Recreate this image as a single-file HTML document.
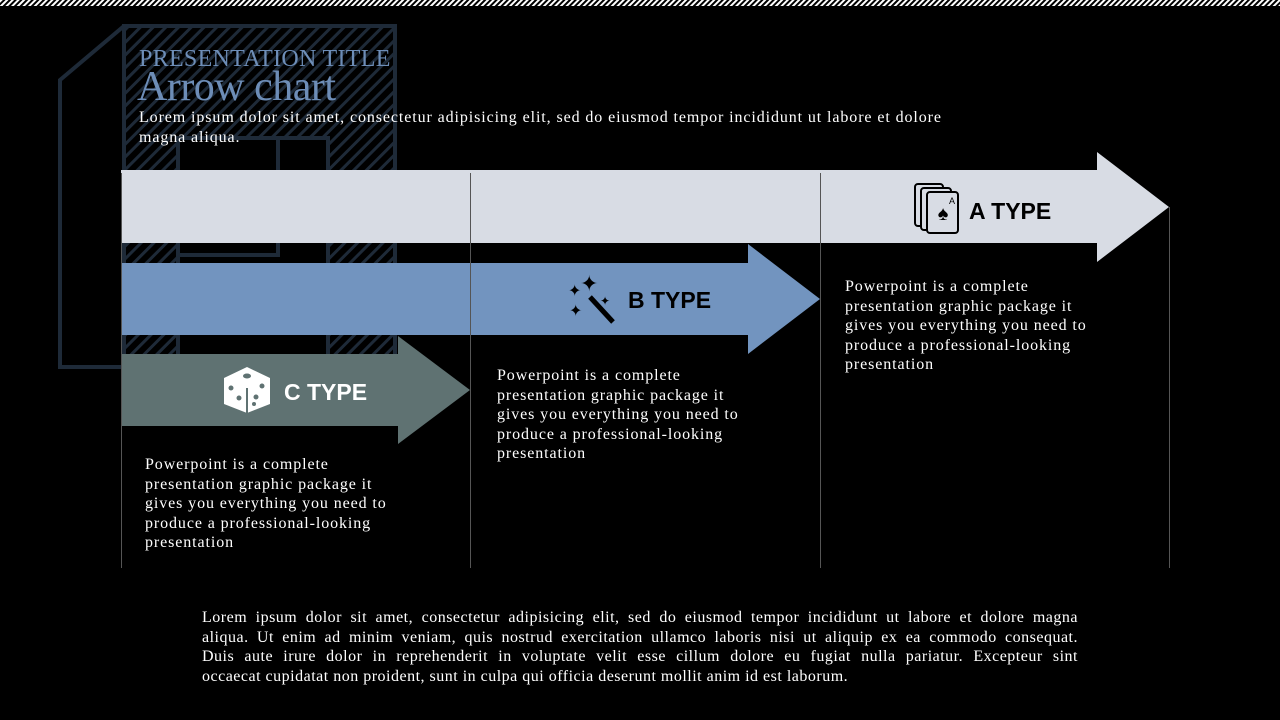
<!DOCTYPE html>
<html><head><meta charset="utf-8"><style>
body{margin:0;width:1280px;height:720px;background:#000;overflow:hidden;position:relative;font-family:"Liberation Serif",serif;}
.t{position:absolute;color:#fff;font-size:16px;line-height:19.5px;letter-spacing:0.9px;white-space:nowrap;}
.j div{text-align:justify;text-align-last:justify;white-space:nowrap;}
.j div.l{text-align-last:left;}
.lbl{position:absolute;font-family:"Liberation Sans",sans-serif;font-weight:bold;font-size:23px;}
</style></head><body>
<svg width="1280" height="720" style="position:absolute;left:0;top:0">
<defs>
<pattern id="h" width="9" height="9" patternUnits="userSpaceOnUse" patternTransform="rotate(45)"><rect width="3" height="9" fill="#1e2a38"/></pattern>
<pattern id="top" width="4" height="4" patternUnits="userSpaceOnUse" patternTransform="rotate(45)"><rect width="2" height="4" fill="#fff"/></pattern>
</defs>
<rect x="0" y="0" width="1280" height="6" fill="url(#top)"/>
<g stroke="#1e2a38" stroke-width="4" fill="none">
<polyline points="122,367 60,367 60,80 124,26"/>
<rect x="124" y="26" width="271" height="340" fill="url(#h)"/>
<rect x="178" y="138" width="150" height="228" fill="#000"/>
<rect x="178" y="138" width="100" height="117"/>
</g>
<polygon points="121,170 1097,170 1097,152 1169,207 1097,262 1097,243 121,243" fill="#d8dce4"/>
<polygon points="121,263 748,263 748,244 820,299 748,354 748,335 121,335" fill="#7294bf"/>
<polygon points="121,354 398,354 398,336 470,390 398,444 398,426 121,426" fill="#5f7272"/>
<g stroke="#555" stroke-width="1">
<line x1="121.5" y1="173" x2="121.5" y2="568"/>
<line x1="470.5" y1="173" x2="470.5" y2="568"/>
<line x1="820.5" y1="173" x2="820.5" y2="568"/>
<line x1="1169.5" y1="207" x2="1169.5" y2="568"/>
</g>
<g stroke="#000" stroke-width="2" fill="#d8dce4">
<rect x="915" y="184" width="28" height="42" rx="3"/>
<rect x="921" y="188" width="30" height="42" rx="3"/>
<rect x="927" y="192" width="31" height="41" rx="3"/>
</g>
<text x="943" y="220" font-size="20" text-anchor="middle" fill="#000">♠</text>
<text x="949" y="204" font-size="9" fill="#000" font-family="Liberation Sans">A</text>
<line x1="590" y1="297" x2="613" y2="322" stroke="#000" stroke-width="5"/>
<text x="568" y="296" font-size="16" fill="#000">✦</text>
<text x="580" y="291" font-size="22" fill="#000">✦</text>
<text x="569" y="316" font-size="16" fill="#000">✦</text>
<text x="600" y="305" font-size="12" fill="#000">✦</text>
<polygon points="247,367 270,378 270,404 247,413 224,404 224,378" fill="#fff"/>
<g fill="#5f7272"><ellipse cx="247" cy="376" rx="4" ry="2.5"/><circle cx="231" cy="388" r="2.5"/><circle cx="239" cy="398" r="2.5"/><circle cx="262" cy="386" r="2.5"/><circle cx="256" cy="397" r="2.5"/><circle cx="254" cy="404" r="2"/></g>
<line x1="247" y1="388" x2="247" y2="413" stroke="#5f7272" stroke-width="2"/>
</svg>
<div style="position:absolute;left:139px;top:46px;color:#6d8db7;font-size:24px;letter-spacing:0.3px">PRESENTATION TITLE</div>
<div style="position:absolute;left:137px;top:63px;color:#6d8db7;font-size:42px;letter-spacing:-0.5px">Arrow chart</div>
<div class="t" style="left:139px;top:108px">Lorem ipsum dolor sit amet, consectetur adipisicing elit, sed do eiusmod tempor incididunt ut labore et dolore<br>magna aliqua.</div>
<div class="lbl" style="left:969px;top:198px;color:#000">A TYPE</div>
<div class="lbl" style="left:628px;top:287px;color:#000">B TYPE</div>
<div class="lbl" style="left:284px;top:379px;color:#fff">C TYPE</div>
<div class="t" style="left:845px;top:277px">Powerpoint is a complete<br>presentation graphic package it<br>gives you everything you need to<br>produce a professional-looking<br>presentation</div>
<div class="t" style="left:497px;top:366px">Powerpoint is a complete<br>presentation graphic package it<br>gives you everything you need to<br>produce a professional-looking<br>presentation</div>
<div class="t" style="left:145px;top:455px">Powerpoint is a complete<br>presentation graphic package it<br>gives you everything you need to<br>produce a professional-looking<br>presentation</div>
<div class="t j" style="left:202px;top:608px;width:876px;letter-spacing:0.5px">
<div>Lorem ipsum dolor sit amet, consectetur adipisicing elit, sed do eiusmod tempor incididunt ut labore et dolore magna</div>
<div>aliqua. Ut enim ad minim veniam, quis nostrud exercitation ullamco laboris nisi ut aliquip ex ea commodo consequat.</div>
<div>Duis aute irure dolor in reprehenderit in voluptate velit esse cillum dolore eu fugiat nulla pariatur. Excepteur sint</div>
<div class="l">occaecat cupidatat non proident, sunt in culpa qui officia deserunt mollit anim id est laborum.</div>
</div>
</body></html>
